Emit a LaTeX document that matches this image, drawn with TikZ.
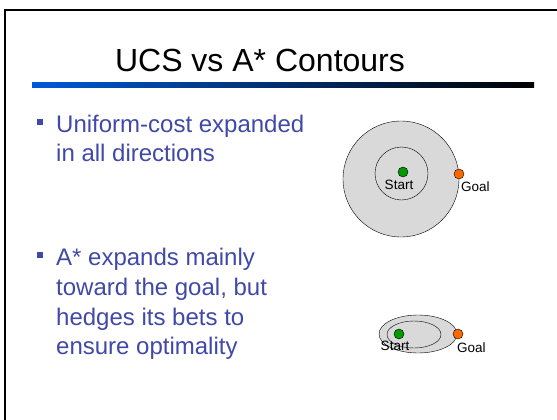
\documentclass[tikz,border=0pt]{standalone}
\usepackage{fontspec}
\setmainfont{Liberation Sans}
\usetikzlibrary{positioning, shapes}
\definecolor{bullettext}{RGB}{64,72,168}
\definecolor{contour}{RGB}{217,217,217}
\definecolor{startgreen}{RGB}{0,153,0}
\definecolor{goalorange}{RGB}{255,102,0}
\definecolor{barblue}{RGB}{0,90,215}

\begin{document}
\begin{tikzpicture}[x=1pt,y=-1pt,
  dot/.style={circle,draw,inner sep=0pt,minimum size=10pt},
  bulletsq/.style={rectangle,fill=bullettext,inner sep=0pt,minimum size=6pt},
  bullettxt/.style={anchor=base west,inner sep=0pt,text=bullettext,font=\fontsize{24}{29}\selectfont},
  lbl/.style={inner sep=0pt,font=\fontsize{13.5}{15}\selectfont}]
\useasboundingbox (0,0) rectangle (557,420);
\draw[line width=2.5pt] (5,420) -- (5,10) -- (557,10);
\node[anchor=base,inner sep=0pt,font=\fontsize{32}{36}\selectfont] (title) at (260,72) {UCS vs A* Contours};
\shade[left color=barblue,right color=black] (32,83) rectangle (534,88);

\node[bulletsq] (b1) at (40,122) {};
\node[bullettxt] (ucs1) at (56,132) {Uniform-cost expanded};
\node[bullettxt] (ucs2) at (56,161) {in all directions};
\node[bulletsq] (b2) at (40,255) {};
\node[bullettxt] (astar1) at (56,265) {A* expands mainly};
\node[bullettxt] (astar2) at (56,295) {toward the goal, but};
\node[bullettxt] (astar3) at (56,325) {hedges its bets to};
\node[bullettxt] (astar4) at (56,354) {ensure optimality};

\filldraw[fill=contour] (401,179) circle (58);
\draw (401.5,173.5) circle (26.5);
\node[dot,fill=startgreen] (s1) at (403,172) {};
\node[dot,fill=goalorange] (g1) at (459,174) {};
\node[lbl,anchor=base] (s1lbl) at (399,189) {Start};
\node[lbl,anchor=base west] (g1lbl) at (461,191) {Goal};

\filldraw[fill=contour] (418,334) ellipse [x radius=39,y radius=19];
\draw (414,334.5) ellipse [x radius=27,y radius=13.5];
\node[dot,fill=startgreen] (s2) at (399,334) {};
\node[dot,fill=goalorange] (g2) at (458,334) {};
\node[lbl,anchor=base] (s2lbl) at (395,350) {Start};
\node[lbl,anchor=base west] (g2lbl) at (457,352) {Goal};
\end{tikzpicture}
\end{document}
